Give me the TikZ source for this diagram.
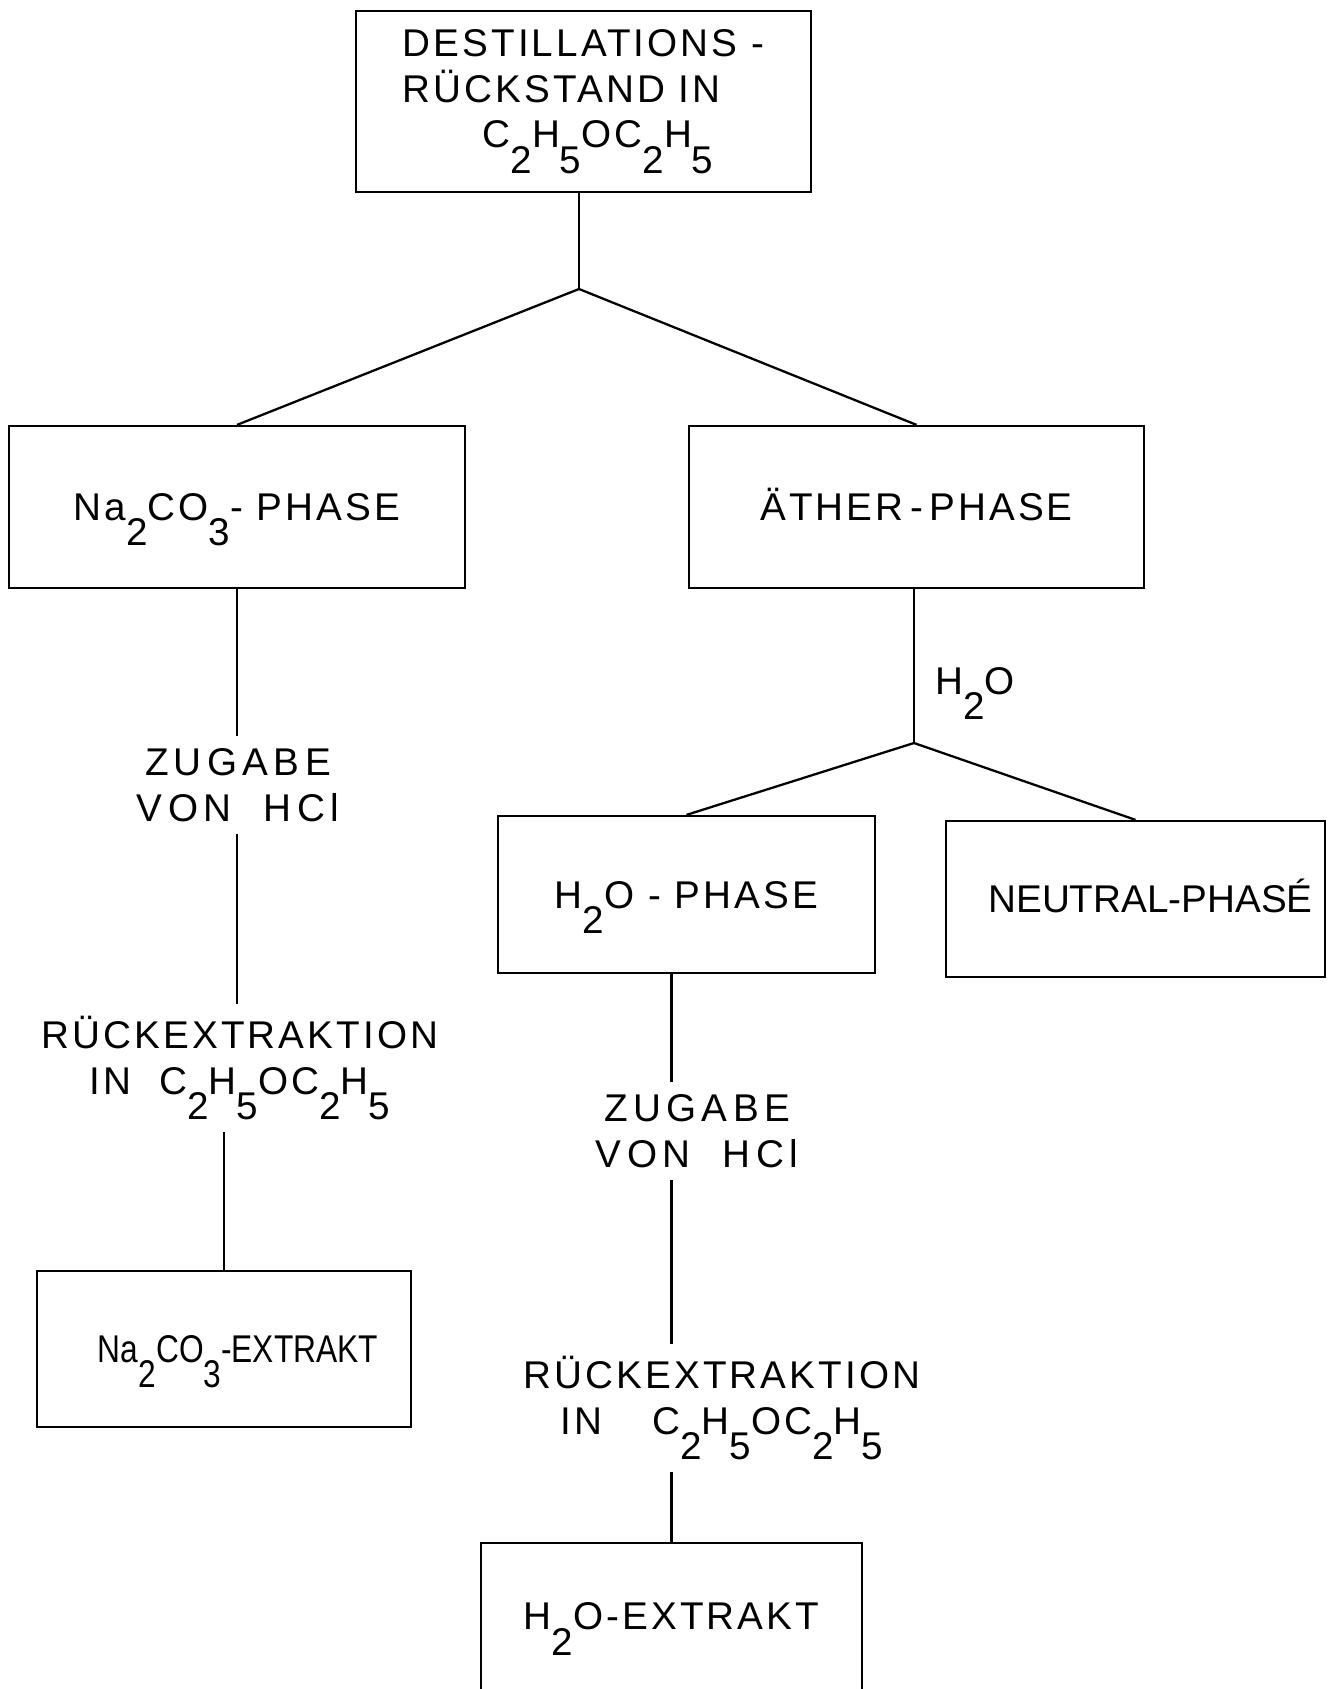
\documentclass[tikz,border=0pt]{standalone}
\usepackage{fontspec}
\newfontfamily\stencil{Liberation Sans}[LetterSpace=8]
\newfontfamily\stenciltight{Liberation Sans}[LetterSpace=0]
\newfontfamily\stencilwide{Liberation Sans}[LetterSpace=14]
\usetikzlibrary{positioning}
\newcommand{\dnum}[1]{\raisebox{-0.65em}{#1}}

\begin{document}
\begin{tikzpicture}[
    x=0.02cm, y=-0.02cm,
    bx/.style={draw, line width=1.3pt, inner sep=0pt},
    one/.style={text height=15.75pt, text depth=0pt},
    lbl/.style={align=center, inner sep=0pt, outer sep=0.25cm},
    wide/.style={font=\stencilwide\fontsize{22}{26}\selectfont},
    ln/.style={line width=1.3pt},
    font=\stencil\fontsize{22}{26}\selectfont]
    \useasboundingbox (0,0) rectangle (1330,1689);
    % boxes
    \node[bx, align=left, minimum width=9.1cm, minimum height=3.62cm] (rest) at (583.5,101.5)
        {DESTILLATIONS -\\RÜCKSTAND IN\\\hspace*{1.6cm}C\dnum{2}H\dnum{5}OC\dnum{2}H\dnum{5}};
    \node[bx, one, minimum width=9.12cm, minimum height=3.24cm] (soda) at (237,507) {Na\dnum{2}CO\dnum{3}- PHASE};
    \node[bx, one, minimum width=9.1cm, minimum height=3.24cm] (ether) at (916.5,507) {ÄTHER\,-\,PHASE};
    \node[bx, one, minimum width=7.54cm, minimum height=3.14cm] (water) at (686.5,894.5) {H\dnum{2}O - PHASE};
    \node[bx, one, minimum width=7.58cm, minimum height=3.12cm] (neutral) at (1135.5,899)
        {\hspace*{0.6cm}\stenciltight NEUTRAL-PHASÉ};
    \node[bx, one, minimum width=7.48cm, minimum height=3.12cm] (sodaex) at (224,1349)
        {\hspace*{0.56cm}\stenciltight\scalebox{0.82}[1]{Na\dnum{2}CO\dnum{3}-EXTRAKT}};
    \node[bx, one, text depth=0.48cm, minimum width=7.62cm, minimum height=3.4cm, anchor=north] (waterex) at (671.5,1542) {H\dnum{2}O-EXTRAKT};
    % labels
    \node[lbl, wide] (hclL) at (238,785) {ZUGABE\\VON\ \ HCl};
    \node[lbl] (backL) at (240,1068) {RÜCKEXTRAKTION\\IN\ \ C\dnum{2}H\dnum{5}OC\dnum{2}H\dnum{5}};
    \node[lbl, one] (water2) at (975,681) {H\dnum{2}O};
    \node[lbl, wide] (hclR) at (697,1131) {ZUGABE\\VON\ \ HCl};
    \node[lbl] (backR) at (722,1408) {RÜCKEXTRAKTION\\IN\hspace{1cm}C\dnum{2}H\dnum{5}OC\dnum{2}H\dnum{5}};
    \coordinate (j1) at (579,289);
    \coordinate (j2) at (914,743);
    % lines
    \draw[ln] (j1 |- rest.south) -- (j1);
    \draw[ln] (j1) -- (soda.north);
    \draw[ln] (j1) -- (ether.north);
    \draw[ln] (j2 |- ether.south) -- (j2);
    \draw[ln] (j2) -- (water.north);
    \draw[ln] (j2) -- (neutral.north);
    \draw[ln] (soda.south) -- (soda.south |- hclL.north);
    \draw[ln] (soda.south |- hclL.south) -- (soda.south |- backL.north);
    \draw[ln] (sodaex.north |- backL.south) -- (sodaex.north);
    \draw[ln] (waterex.north |- water.south) -- (waterex.north |- hclR.north);
    \draw[ln] (waterex.north |- hclR.south) -- (waterex.north |- backR.north);
    \draw[ln] (waterex.north |- backR.south) -- (waterex.north);
\end{tikzpicture}
\end{document}
